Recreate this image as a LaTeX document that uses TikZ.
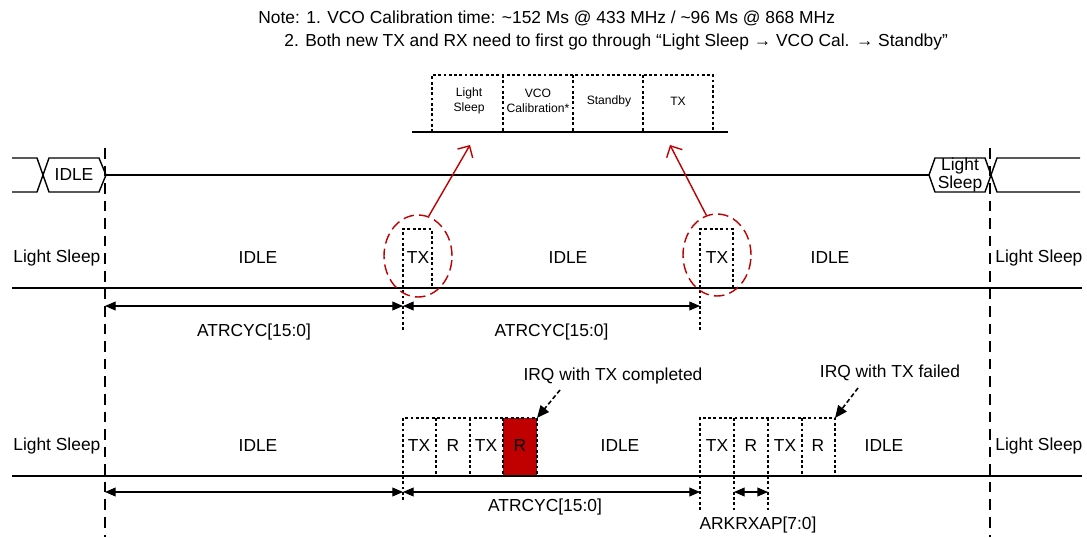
\documentclass[tikz,border=0pt]{standalone}
\usepackage{fontspec}
\setmainfont{Liberation Sans}
\usetikzlibrary{arrows.meta,shapes.geometric}
\definecolor{irqred}{RGB}{192,0,0}

\begin{document}
\begin{tikzpicture}[x=0.02cm, y=-0.02cm,
        every node/.style={inner sep=0pt, font=\fontsize{9.9}{9}\selectfont},
        level/.style={line width=0.8pt},
        slot/.style={dash pattern=on 1.6pt off 1.4pt, line width=0.9pt},
        marker/.style={dash pattern=on 6pt off 4pt, line width=0.8pt},
        span/.style={{Triangle[length=6pt,width=5pt]}-{Triangle[length=6pt,width=5pt]}, line width=0.6pt},
        ring/.style={ellipse, draw=irqred, dash pattern=on 6pt off 3pt, line width=0.8pt, minimum width=1.36cm, minimum height=1.64cm},
        calarrow/.style={irqred, line width=0.8pt, -{Straight Barb[length=5pt]}},
        irqarrow/.style={dash pattern=on 2.5pt off 1.5pt, line width=0.9pt, -{Triangle[length=7pt,width=6pt]}},
        small/.style={align=center, font=\fontsize{6.9}{8.5}\selectfont}]
        \useasboundingbox (0,0) rectangle (1087,537);

        \node[anchor=west] (note1) at (258,18) {Note: 1. VCO Calibration time: \textasciitilde152 Ms @ 433 MHz / \textasciitilde96 Ms @ 868 MHz};
        \node[anchor=west] (note2) at (284,42) {2. Both new TX and RX need to first go through “Light Sleep → VCO Cal. → Standby”};

        \coordinate (calL) at (412,132);
        \coordinate (calR) at (728,132);
        \draw[level] (calL) -- (calR);
        \draw[slot] (432,132) -- (432,75) -- (713,75) -- (713,132);
        \foreach \x in {503,573,643}
            \draw[slot] (\x,75) -- (\x,132);
        \node[small] (calsleep) at (469,101) {Light\\Sleep};
        \node[small] (calvco) at (538,101) {VCO\\Calibration*};
        \node[small] (calstby) at (609,101) {Standby};
        \node[small] (caltx) at (678,101) {TX};
        \coordinate (tip1) at (470,145);
        \coordinate (tip2) at (670,145);

        \draw[level] (12,158) -- (37,158) -- (49,192) -- (99,192) -- (106,175) -- (99,158) -- (49,158) -- (37,192) -- (12,192);
        \draw[level] (106,175) -- (929,175);
        \draw[level] (929,175) -- (935,158) -- (985,158) -- (997,192) -- (1080,192);
        \draw[level] (929,175) -- (935,192) -- (985,192) -- (997,158) -- (1080,158);
        \node (busidle) at (74,175) {IDLE};
        \node[align=center] (bussleep) at (960,175) {Light\\Sleep};

        \draw[marker] (105,148) -- (105,537);
        \draw[marker] (990,148) -- (990,537);

        \draw[level] (12,288) -- (1082,288);
        \draw[slot] (403,330) -- (403,229) -- (432,229) -- (432,288);
        \draw[slot] (700,330) -- (700,229) -- (733,229) -- (733,288);
        \node[anchor=west] (sleepA) at (13,258) {Light Sleep};
        \node (idleA1) at (258,258) {IDLE};
        \node (txA1) at (418,258) {TX};
        \node (idleA2) at (568,258) {IDLE};
        \node (txA2) at (717,258) {TX};
        \node (idleA3) at (830,258) {IDLE};
        \node[anchor=west] (sleepA2) at (995,258) {Light Sleep};
        \node[ring] (ring1) at (418,256) {};
        \node[ring] (ring2) at (717,255) {};
        \draw[calarrow] (ring1.75) -- (tip1);
        \draw[calarrow] (ring2.105) -- (tip2);

        \coordinate (a0) at (105,306);
        \coordinate (a1) at (403,306);
        \coordinate (a2) at (700,306);
        \draw[span] (a0) -- node[below=10pt] (cycA1) {ATRCYC[15:0]} (a1);
        \draw[span] (a1) -- node[below=10pt] (cycA2) {ATRCYC[15:0]} (a2);

        \fill[irqred] (503,418) rectangle (537,476);
        \draw[level] (12,476) -- (1082,476);
        \draw[slot] (403,500) -- (403,418) -- (537,418) -- (537,476);
        \foreach \x in {436,470,503}
            \draw[slot] (\x,418) -- (\x,476);
        \draw[slot] (700,510) -- (700,418) -- (835,418) -- (835,476);
        \draw[slot] (734,418) -- (734,510);
        \draw[slot] (768,418) -- (768,510);
        \draw[slot] (802,418) -- (802,476);
        \node[anchor=west] (sleepB) at (13,446) {Light Sleep};
        \node (idleB1) at (258,446) {IDLE};
        \node (txB1) at (419,446) {TX};
        \node (rB1) at (453,446) {R};
        \node (txB2) at (486,446) {TX};
        \node (rB2) at (520,446) {R};
        \node (idleB2) at (620,446) {IDLE};
        \node (txB3) at (717,446) {TX};
        \node (rB3) at (751,446) {R};
        \node (txB4) at (785,446) {TX};
        \node (rB4) at (818,446) {R};
        \node (idleB3) at (884,446) {IDLE};
        \node[anchor=west] (sleepB2) at (995,446) {Light Sleep};

        \node (irqok) at (613,376) {IRQ with TX completed};
        \node (irqfail) at (890,373) {IRQ with TX failed};
        \coordinate (okend) at (537,418);
        \coordinate (failend) at (835,418);
        \draw[irqarrow] (560,390) -- (okend);
        \draw[irqarrow] (858,388) -- (failend);

        \coordinate (b0) at (105,492);
        \coordinate (b1) at (403,492);
        \coordinate (b2) at (700,492);
        \coordinate (b3) at (734,492);
        \coordinate (b4) at (768,492);
        \draw[span] (b0) -- (b1);
        \draw[span] (b1) -- (b2);
        \draw[span] (b3) -- (b4);
        \node (cycB) at (545,507) {ATRCYC[15:0]};
        \node (ackB) at (758,525) {ARKRXAP[7:0]};
\end{tikzpicture}
\end{document}
